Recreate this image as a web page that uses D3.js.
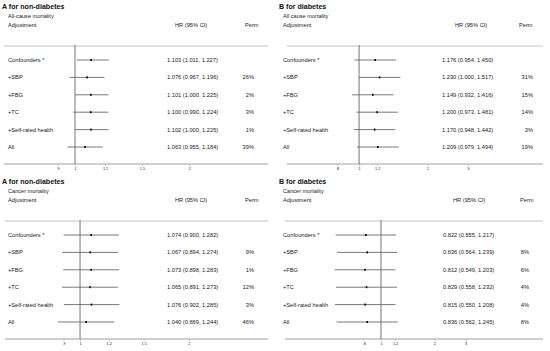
<!DOCTYPE html>
<html>
<head>
<meta charset="utf-8">
<script src="https://cdn.jsdelivr.net/npm/d3@7"></script>
<style>
  body { margin: 0; background: #fff; }
  text { font-family: "Liberation Sans", Arial, sans-serif; fill: #222; }
</style>
</head>
<body>
<div id="chart"></div>
<script>
// row labels shared by all four panels
const adjustments = ["Confounders *", "+SBP", "+FBG", "+TC", "+Self-rated health", "All"];

// A - non-diabetes, all-cause
const allNonHR = [1.103, 1.076, 1.101, 1.100, 1.102, 1.063];
const allNonLo = [1.011, 0.967, 1.000, 0.990, 1.000, 0.955];
const allNonHi = [1.227, 1.196, 1.225, 1.224, 1.225, 1.184];
const allNonPerm = ["", "26%", "2%", "3%", "1%", "39%"];

// B - diabetes, all-cause
const allDiaHR = [1.176, 1.230, 1.149, 1.200, 1.170, 1.209];
const allDiaLo = [0.954, 1.000, 0.932, 0.973, 0.948, 0.979];
const allDiaHi = [1.450, 1.517, 1.416, 1.481, 1.442, 1.494];
const allDiaPerm = ["", "31%", "15%", "14%", "3%", "19%"];

// A - non-diabetes, cancer
const canNonHR = [1.074, 1.067, 1.073, 1.065, 1.076, 1.040];
const canNonLo = [0.900, 0.894, 0.898, 0.891, 0.902, 0.869];
const canNonHi = [1.282, 1.274, 1.283, 1.273, 1.285, 1.244];
const canNonPerm = ["", "9%", "1%", "12%", "3%", "46%"];

// B - diabetes, cancer
const canDiaHR = [0.822, 0.836, 0.812, 0.829, 0.815, 0.836];
const canDiaLo = [0.555, 0.564, 0.549, 0.558, 0.550, 0.562];
const canDiaHi = [1.217, 1.239, 1.203, 1.232, 1.208, 1.245];
const canDiaPerm = ["", "8%", "6%", "4%", "4%", "8%"];

const ticksA = [0.9, 1, 1.2, 1.5, 2];
const tickLabelsA = [".9", "1", "1.2", "1.5", "2"];
const ticksB = [0.8, 1, 1.2, 2, 3];
const tickLabelsB = [".8", "1", "1.2", "2", "3"];

const panels = [
  {x: 0, y: 0, title: "A for non-diabetes", sub: "All-cause mortality",
   hr: allNonHR, lo: allNonLo, hi: allNonHi, perm: allNonPerm,
   ticks: ticksA, labels: tickLabelsA, range: [57.6, 189.4],
   lineX: [4, 268], hrX: 175, valX: 167, permX: 254, permHead: 245},
  {x: 275, y: 0, title: "B for diabetes", sub: "All cause mortality",
   hr: allDiaHR, lo: allDiaLo, hi: allDiaHi, perm: allDiaPerm,
   ticks: ticksB, labels: tickLabelsB, range: [62, 192.8],
   lineX: [12, 268], hrX: 180, valX: 167, permX: 258, permHead: 244},
  {x: 0, y: 175, title: "A for non-diabetes", sub: "Cancer mortality",
   hr: canNonHR, lo: canNonLo, hi: canNonHi, perm: canNonPerm,
   ticks: ticksA, labels: tickLabelsA, range: [63.5, 188.8],
   lineX: [5, 268], hrX: 175, valX: 167, permX: 254, permHead: 245},
  {x: 275, y: 175, title: "B for diabetes", sub: "Cancer mortality",
   hr: canDiaHR, lo: canDiaLo, hi: canDiaHi, perm: canDiaPerm,
   ticks: ticksB, labels: tickLabelsB, range: [88.8, 190.6],
   lineX: [10, 268], hrX: 178, valX: 168, permX: 254, permHead: 245}
];

const rowY = d3.scalePoint().domain(adjustments).range([60, 147]);
const fmt = d3.format(".3f");

const svg = d3.select("#chart").append("svg")
    .attr("width", 550)
    .attr("height", 351);

panels.forEach(p => {
    const g = svg.append("g").attr("transform", "translate(" + p.x + "," + p.y + ")");

    const xScale = d3.scaleLog()
        .domain([p.ticks[0], p.ticks[p.ticks.length - 1]])
        .range(p.range);

    g.append("text")
        .attr("x", p.x ? 4 : 2).attr("y", 8.5)
        .style("font-size", "7.1px").style("font-weight", "bold").style("fill", "#111")
        .text(p.title);

    g.append("text")
        .attr("x", 8).attr("y", 17.5)
        .style("font-size", "5.6px")
        .text(p.sub);

    g.append("text")
        .attr("x", 8).attr("y", 26.5)
        .style("font-size", "5.7px")
        .text("Adjustment");

    g.append("text")
        .attr("x", p.hrX).attr("y", 26.5)
        .style("font-size", "5.7px")
        .text("HR (95% CI)");

    g.append("text")
        .attr("x", p.permHead).attr("y", 26.5)
        .style("font-size", "5.7px")
        .text("Perm");

    // header rule
    g.append("line")
        .attr("x1", p.lineX[0]).attr("x2", p.lineX[1])
        .attr("y1", 46).attr("y2", 46)
        .attr("stroke", "#d8d8d8").attr("stroke-width", 1.3);

    // bottom axis line
    g.append("line")
        .attr("x1", p.lineX[0]).attr("x2", p.lineX[1])
        .attr("y1", 164).attr("y2", 164)
        .attr("stroke", "#888").attr("stroke-width", 0.8);

    const xAxis = d3.axisBottom()
        .scale(xScale)
        .tickValues(p.ticks)
        .tickSize(2)
        .tickPadding(1.5)
        .tickFormat((d, i) => p.labels[i]);

    const ax = g.append("g")
        .attr("transform", "translate(0,164)")
        .call(xAxis);
    ax.select(".domain").remove();
    ax.selectAll("line").attr("stroke", "#999").attr("stroke-width", 0.5);
    ax.selectAll("text")
        .style("font-size", "3.8px")
        .style("font-family", "'Liberation Sans', Arial, sans-serif")
        .attr("fill", "#333");

    // reference line at HR = 1
    g.append("line")
        .attr("x1", xScale(1)).attr("x2", xScale(1))
        .attr("y1", 45).attr("y2", 164)
        .attr("stroke", "#666").attr("stroke-width", 0.9);

    adjustments.forEach((lab, i) => {
        const y = rowY(lab);

        g.append("text")
            .attr("x", 8).attr("y", y + 2)
            .style("font-size", "5.7px")
            .text(lab);

        g.append("line")
            .attr("x1", xScale(p.lo[i])).attr("x2", xScale(p.hi[i]))
            .attr("y1", y).attr("y2", y)
            .attr("stroke", "#6a6a6a").attr("stroke-width", 0.9);

        g.append("rect")
            .attr("x", xScale(p.hr[i]) - 0.8).attr("y", y - 1)
            .attr("width", 1.6).attr("height", 2)
            .attr("fill", "#000");

        g.append("text")
            .attr("x", p.valX).attr("y", y + 2)
            .style("font-size", "5.7px")
            .text(fmt(p.hr[i]) + " (" + fmt(p.lo[i]) + ", " + fmt(p.hi[i]) + ")");

        g.append("text")
            .attr("x", p.permX).attr("y", y + 2)
            .attr("text-anchor", "end")
            .style("font-size", "5.7px")
            .text(p.perm[i]);
    });
});
</script>
</body>
</html>
